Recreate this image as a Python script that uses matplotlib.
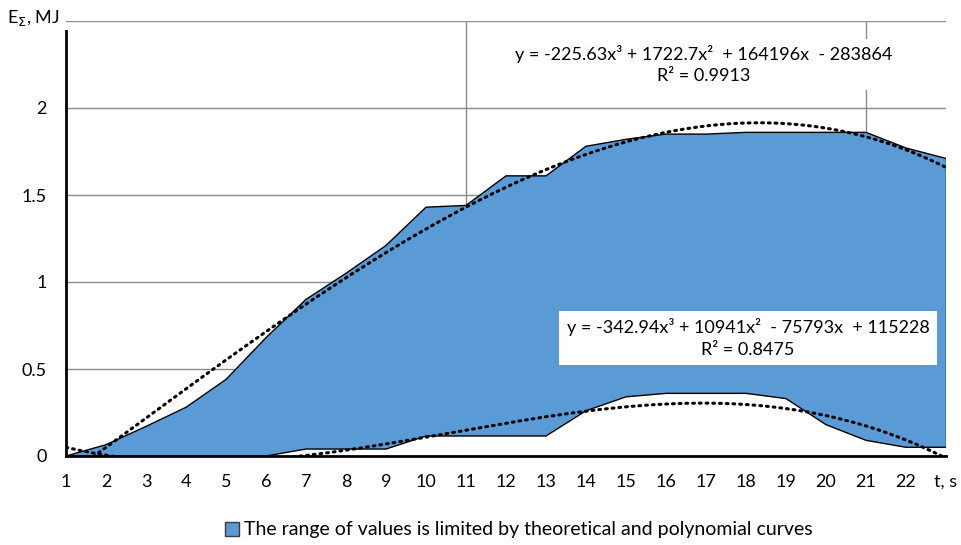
import numpy as np
import matplotlib
matplotlib.use('Agg')
import matplotlib.pyplot as plt
from matplotlib.patches import Patch

plt.rcParams['font.family'] = ['Lato', 'DejaVu Sans']

# DADOS
t = list(range(1, 24))
e_theor = [0, 0.065, 0.17, 0.28, 0.44, 0.68, 0.90, 1.05, 1.21, 1.43, 1.44, 1.61, 1.61,
           1.78, 1.82, 1.85, 1.85, 1.86, 1.86, 1.86, 1.86, 1.77, 1.71]
e_lower = [0, 0, 0, 0, 0, 0, 0.04, 0.04, 0.04, 0.115, 0.115, 0.115, 0.115,
           0.26, 0.34, 0.36, 0.36, 0.36, 0.33, 0.18, 0.09, 0.05, 0.05]

# coeficientes das linhas de tendencia (em J, como no grafico)
coef_upper = [-225.63, 1722.7, 164196, -283864]
coef_lower = [-342.94, 10941, -75793, 115228]
eq_upper = 'y = -225.63x³ + 1722.7x²  + 164196x  - 283864\nR² = 0.9913'
eq_lower = 'y = -342.94x³ + 10941x²  - 75793x  + 115228\nR² = 0.8475'

xticks = list(range(1, 24))
xlabels = [str(i) for i in range(1, 23)] + ['t, s']
yticks = [0, 0.5, 1, 1.5, 2, 2.5]
ylabels = ['0', '0.5', '1', '1.5', '2', '']
vgrid = [11, 21]

AZUL = '#5B9BD5'
CINZA = '#8c8c8c'

fig = plt.figure(figsize=(9.61, 5.45), dpi=100)
ax = fig.add_axes([66 / 961, 1 - 456 / 545, 880 / 961, 435 / 545])

# area empilhada: parte de baixo branca, faixa azul por cima
ax.fill_between(t, 0, e_lower, facecolor='white', edgecolor='none', zorder=2)
ax.fill_between(t, e_lower, e_theor, facecolor=AZUL, edgecolor='none', zorder=2)
ax.plot(t, e_theor, color='black', lw=1.0, zorder=3)
ax.plot(t, e_lower, color='black', lw=1.0, zorder=3)
ax.plot([t[-1], t[-1]], [e_lower[-1], e_theor[-1]], color='black', lw=1.0, zorder=3)

# LINHAS DE TENDENCIA
xs = np.linspace(1, 23, 300)
ax.plot(xs, np.polyval(coef_upper, xs) / 1e6, color='black', lw=2.2,
        linestyle=(0, (0.6, 1.6)), dash_capstyle='round', zorder=4)
ax.plot(xs, np.polyval(coef_lower, xs) / 1e6, color='black', lw=2.2,
        linestyle=(0, (0.6, 1.6)), dash_capstyle='round', zorder=4)

ax.set_xlim(1, 23)
ax.set_ylim(0, 2.5)
ax.set_xticks(xticks)
ax.set_xticklabels(xlabels, fontsize=13)
ax.set_yticks(yticks)
ax.set_yticklabels(ylabels, fontsize=13)
ax.tick_params(axis='x', length=0, pad=13)
ax.tick_params(axis='y', length=0, pad=14)

ax.grid(axis='y', color=CINZA, lw=1.0, zorder=1)
for xv in vgrid:
    ax.axvline(xv, color=CINZA, lw=1.0, zorder=1)

for s in ['top', 'right']:
    ax.spines[s].set_visible(False)
ax.spines['left'].set_linewidth(2)
ax.spines['bottom'].set_linewidth(2)
ax.spines['left'].set_bounds(0, 2.44)
ax.spines['left'].set_zorder(5)
ax.spines['bottom'].set_zorder(5)

fig.text(60 / 961, 1 - 18 / 545, 'E$_\\Sigma$, MJ', ha='right', va='center', fontsize=13)

ax.text(16.95, 2.25, eq_upper, ha='center', va='center', fontsize=13,
        linespacing=1.45, zorder=6,
        bbox=dict(facecolor='white', edgecolor='none', pad=4))
ax.text(18.05, 0.68, eq_lower, ha='center', va='center', fontsize=13,
        linespacing=1.45, zorder=6,
        bbox=dict(facecolor='white', edgecolor='none', boxstyle='square,pad=0.4'))

handles = [Patch(facecolor=AZUL, edgecolor='#3a3a3a', lw=1,
                 label='The range of values is limited by theoretical and polynomial curves')]
fig.legend(handles=handles, loc='center', bbox_to_anchor=(0.54, 1 - 530 / 545),
           frameon=False, fontsize=14, handlelength=0.7, handleheight=0.7,
           handletextpad=0.3)

fig.savefig('out.png', dpi=100)
